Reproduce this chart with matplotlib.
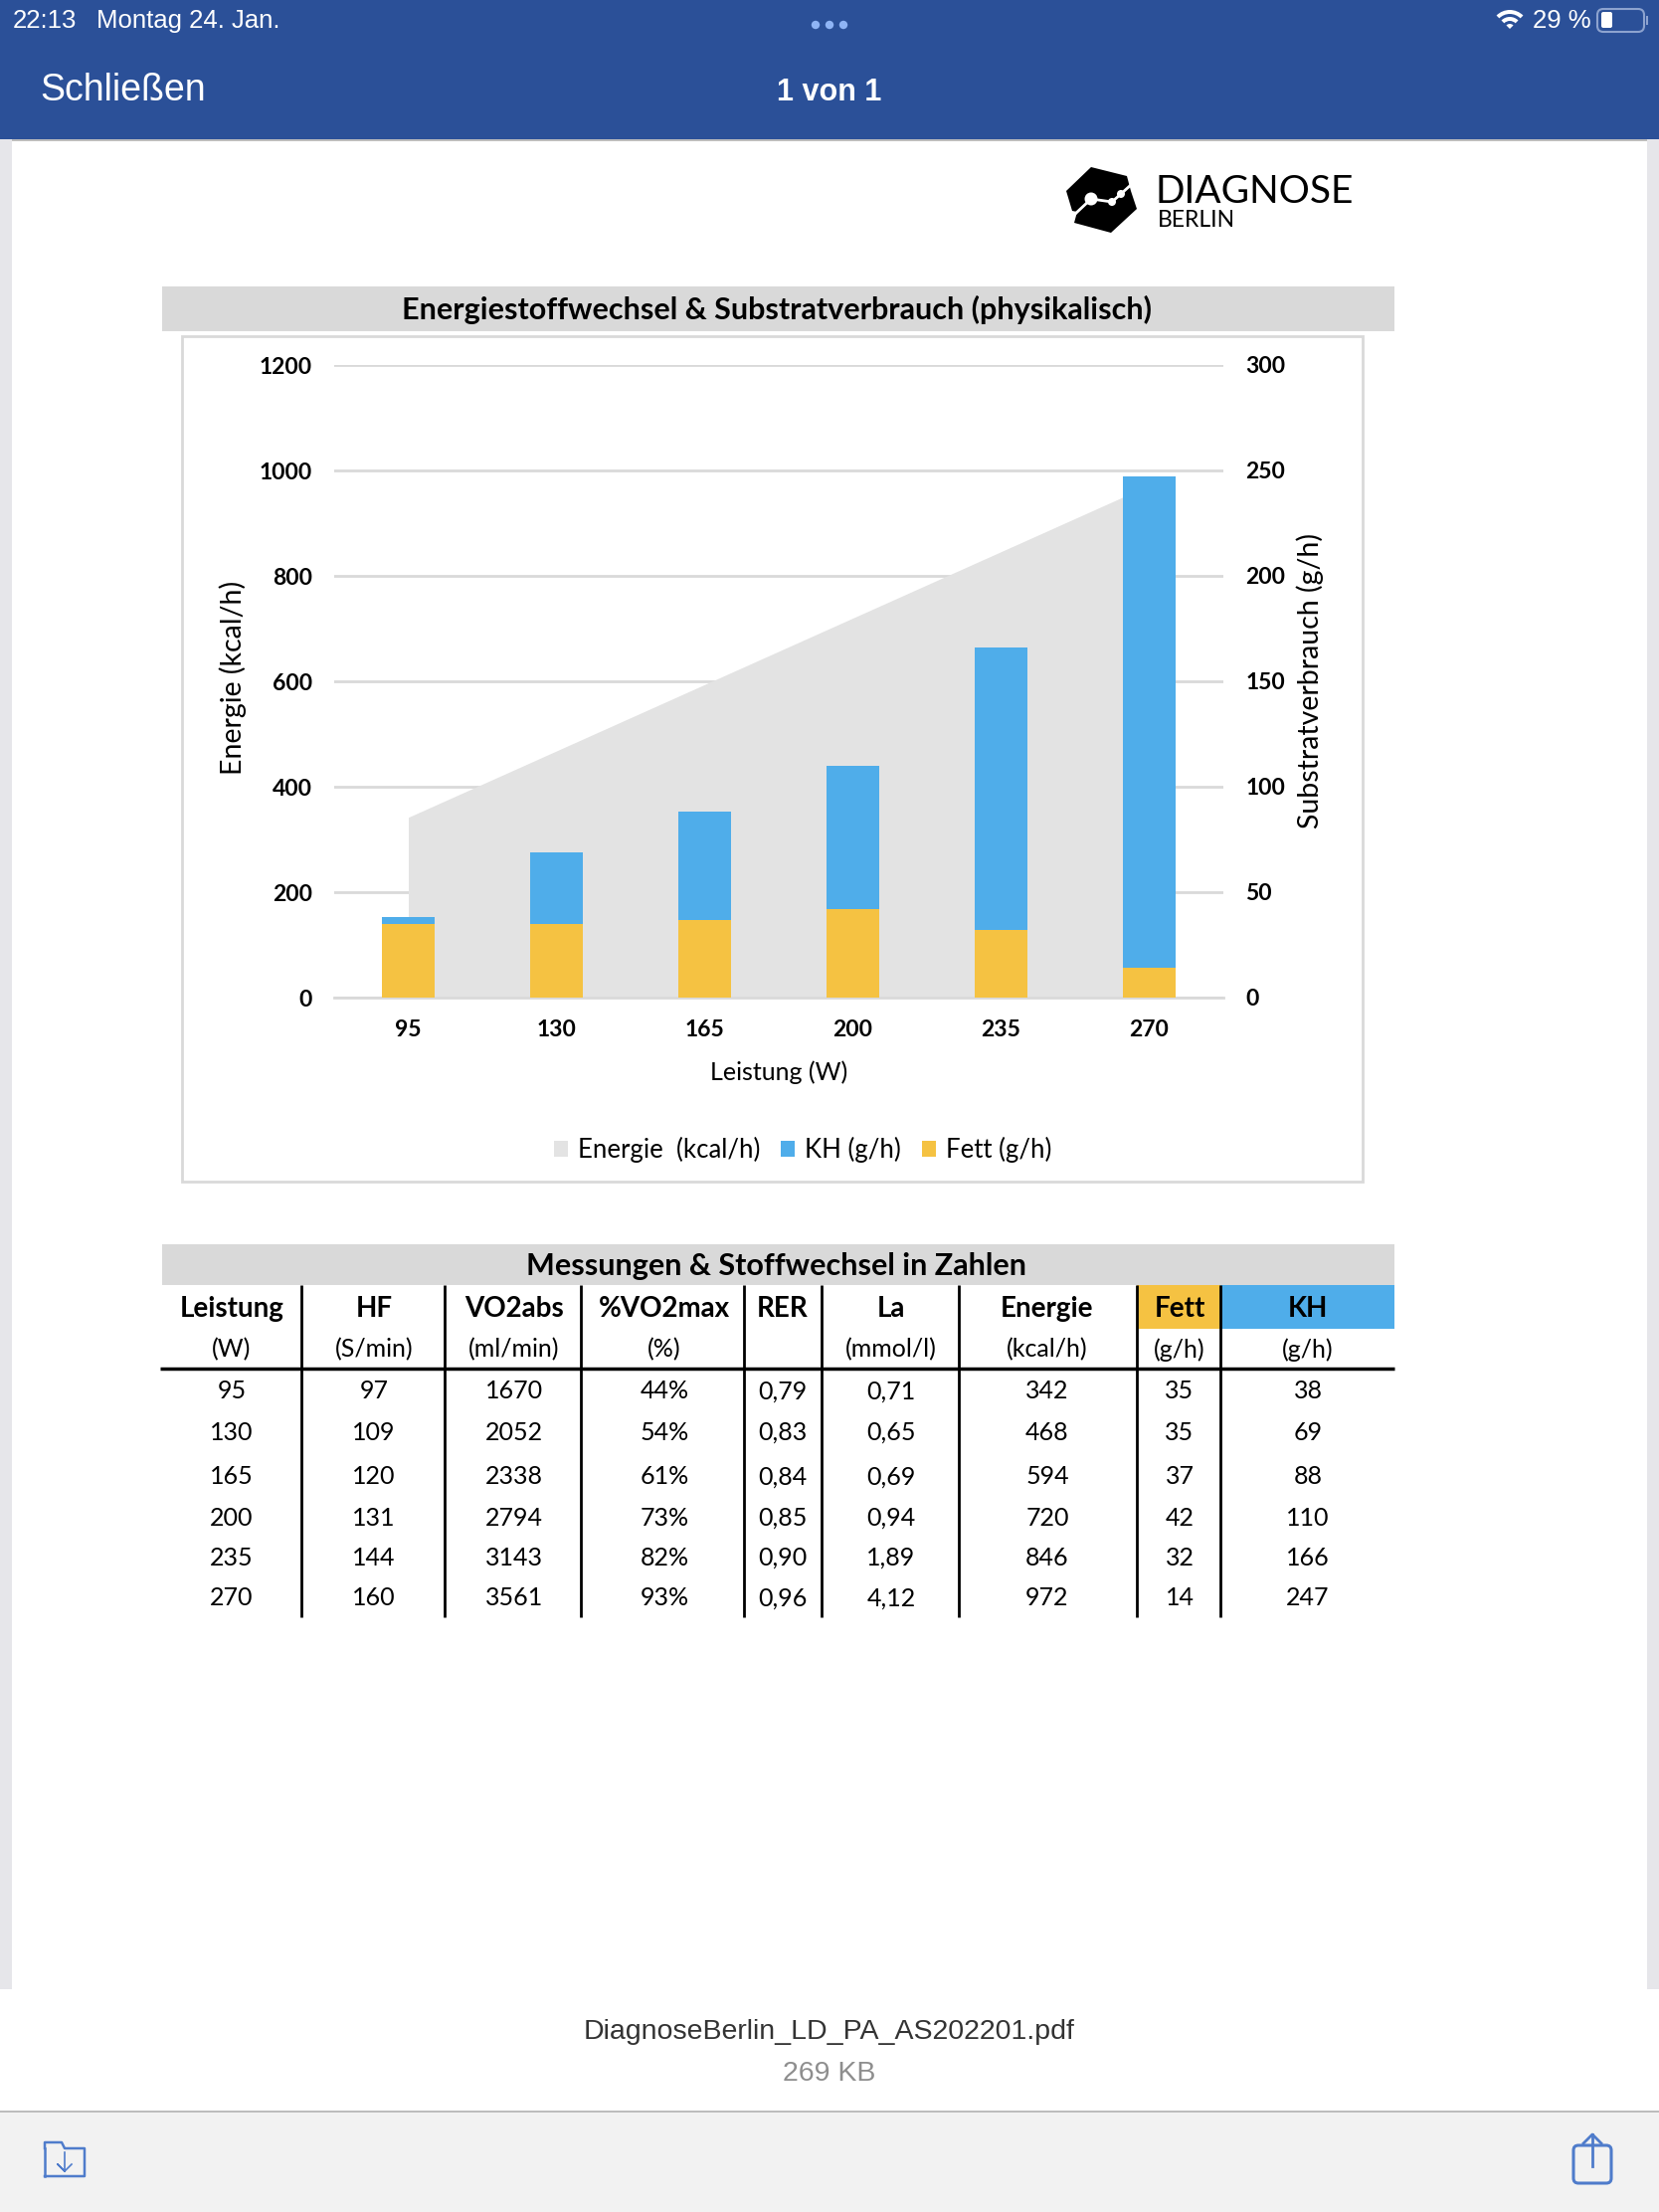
import numpy as np
import matplotlib
matplotlib.use('Agg')
import matplotlib.pyplot as plt
from matplotlib.patches import Rectangle, Polygon, FancyBboxPatch, Circle, Wedge

W, H = 1668, 2224

leistung = [95, 130, 165, 200, 235, 270]
hf = [97, 109, 120, 131, 144, 160]
vo2abs = [1670, 2052, 2338, 2794, 3143, 3561]
vo2max = ['44%', '54%', '61%', '73%', '82%', '93%']
rer = ['0,79', '0,83', '0,84', '0,85', '0,90', '0,96']
la = ['0,71', '0,65', '0,69', '0,94', '1,89', '4,12']
energie = [342, 468, 594, 720, 846, 972]
fett = [35, 35, 37, 42, 32, 14]
kh = [38, 69, 88, 110, 166, 247]

col_heads = ['Leistung', 'HF', 'VO2abs', '%VO2max', 'RER', 'La', 'Energie', 'Fett', 'KH']
col_units = ['(W)', '(S/min)', '(ml/min)', '(%)', '', '(mmol/l)', '(kcal/h)', '(g/h)', '(g/h)']
col_x = [233, 376, 517, 668, 787, 896, 1053, 1186, 1315]
col_lines = [303, 447, 584, 748, 826, 964, 1143, 1227]
row_y = [1399, 1440, 1485, 1526, 1566, 1607]

BLUE = '#4FADEA'
YELLOW = '#F5C242'
AREA = '#E3E3E3'
BAR = '#2B5098'
LINK = '#4F7CCB'
FONT = 'Lato'
UI = 'Liberation Sans'

fig = plt.figure(figsize=(W / 100, H / 100), dpi=100)
page = fig.add_axes([0, 0, 1, 1])
page.set_xlim(0, W)
page.set_ylim(H, 0)
page.axis('off')


def rect(x0, y0, x1, y1, **kw):
    kw.setdefault('lw', 0)
    page.add_patch(Rectangle((x0, y0), x1 - x0, y1 - y0, **kw))


def label(x, y, s, size, **kw):
    kw.setdefault('family', FONT)
    kw.setdefault('color', 'black')
    kw.setdefault('ha', 'center')
    kw.setdefault('va', 'center')
    page.text(x, y, s, fontsize=size, **kw)


# ipad chrome
rect(0, 0, W, 140, fc=BAR)
rect(0, 140, 12, 2000, fc='#E6E6EA')
rect(1656, 140, W, 2000, fc='#E6E6EA')
rect(12, 140, 1656, 142, fc='#BDBDBD')
label(13, 21, '22:13', 18.5, family=UI, color='white', ha='left')
label(97, 21, 'Montag 24. Jan.', 18.5, family=UI, color='white', ha='left')
for x in [820, 834, 848]:
    page.add_patch(Circle((x, 25), 4.2, fc='#8FB4F5', lw=0))
label(1541, 21, '29 %', 18.5, family=UI, color='white', ha='left')
# the y axis of the page is flipped, so these wedges open upwards
page.add_patch(Wedge((1518, 29), 19, 225, 315, width=4, fc='white', lw=0))
page.add_patch(Wedge((1518, 29), 12, 225, 315, width=4, fc='white', lw=0))
page.add_patch(Wedge((1518, 29), 5, 225, 315, fc='white', lw=0))
page.add_patch(FancyBboxPatch((1606, 9), 47, 23, boxstyle='round,pad=0,rounding_size=6',
                              fc='none', ec='#8DA3CF', lw=1.5))
page.add_patch(FancyBboxPatch((1610, 12), 11, 16, boxstyle='round,pad=0,rounding_size=2',
                              fc='white', lw=0))
rect(1655, 16, 1657, 25, fc='#8DA3CF')
label(40, 91, 'Schließen', 27, family=UI, color='white', ha='left')
label(834, 93, '1 von 1', 22, family=UI, color='white', weight='bold')

# logo
page.add_patch(Polygon([(1097, 168), (1133, 177), (1137, 192), (1143, 210), (1117, 234),
                        (1080, 224), (1083, 213), (1078, 212), (1072, 192)],
                       fc='black', lw=0))
page.plot([1080, 1097, 1118, 1127, 1138], [216, 200, 203, 195, 185], color='white', lw=2)
page.add_patch(Circle((1097, 200), 6.5, fc='white', lw=0))
page.add_patch(Circle((1118, 203), 4, fc='white', lw=0))
page.add_patch(Circle((1127, 195), 4, fc='white', lw=0))
label(1162, 193, 'DIAGNOSE', 28, ha='left')
label(1164, 222, 'BERLIN', 16.5, ha='left')

# chart frame
rect(163, 288, 1402, 333, fc='#D9D9D9')
label(781, 311, 'Energiestoffwechsel & Substratverbrauch (physikalisch)', 22, weight='bold')
rect(183, 338, 1370, 1188, fc='none', ec='#D9D9D9', lw=2)

ax = fig.add_axes([336 / W, 1 - 1003 / H, (1230 - 336) / W, (1003 - 367) / H])
ax2 = ax.twinx()
x = np.arange(len(leistung))
ax.fill_between(x, 0, energie, color=AREA, lw=0, label='Energie  (kcal/h)')
ax2.bar(x, kh, width=0.35, color=BLUE, label='KH (g/h)')
ax2.bar(x, fett, width=0.35, color=YELLOW, label='Fett (g/h)')

ax.set_xlim(-0.5, 5.5)
ax.set_ylim(0, 1200)
ax2.set_ylim(0, 300)
ax.set_yticks(range(0, 1201, 200))
ax2.set_yticks(range(0, 301, 50))
ax.set_xticks(x)
ax.set_xticklabels(leistung)
ax.grid(axis='y', color='#D9D9D9', lw=2)
ax.set_axisbelow(True)
ax.set_zorder(1)
ax2.set_zorder(2)
ax.patch.set_visible(False)
ax2.patch.set_visible(False)
for a in (ax, ax2):
    for s in a.spines.values():
        s.set_visible(False)
    a.tick_params(length=0, labelsize=16.5)
    for t in a.get_xticklabels() + a.get_yticklabels():
        t.set_family(FONT)
        t.set_weight('bold')
ax.spines['bottom'].set_visible(True)
ax.spines['bottom'].set_color('#D9D9D9')
ax.spines['bottom'].set_linewidth(2)
ax.tick_params(axis='y', pad=16)
ax2.tick_params(axis='y', pad=16)
ax.tick_params(axis='x', pad=16)
ax.set_xlabel('Leistung (W)', family=FONT, fontsize=18, va='center')
ax.xaxis.set_label_coords(0.5, -0.118)
ax.set_ylabel('Energie (kcal/h)', family=FONT, fontsize=20.5, va='center')
ax.yaxis.set_label_coords(-0.114, 0.505)
ax2.set_ylabel('Substratverbrauch (g/h)', family=FONT, fontsize=20.5, va='center')
ax2.yaxis.set_label_coords(1.097, 0.5)

handles = ax.get_legend_handles_labels()[0] + ax2.get_legend_handles_labels()[0]
labels = ax.get_legend_handles_labels()[1] + ax2.get_legend_handles_labels()[1]
page.legend(handles, labels, ncol=3, loc='center', bbox_to_anchor=(807 / W, 1 - 1156 / H),
            bbox_transform=fig.transFigure, frameon=False, handlelength=0.55, handleheight=0.55,
            handletextpad=0.4, columnspacing=0.8, prop={'family': FONT, 'size': 18.5})

# table
rect(163, 1251, 1402, 1292, fc='#D9D9D9')
label(781, 1273, 'Messungen & Stoffwechsel in Zahlen', 22, weight='bold')
rect(1143, 1292, 1227, 1336, fc=YELLOW)
rect(1227, 1292, 1402, 1336, fc=BLUE)
for cx, head, unit in zip(col_x, col_heads, col_units):
    label(cx, 1316, head, 20, weight='bold')
    label(cx, 1357, unit, 18)
for lx in col_lines:
    page.plot([lx, lx], [1292, 1626], color='black', lw=2, solid_capstyle='butt')
page.plot([161, 1402], [1376, 1376], color='black', lw=2.5, solid_capstyle='butt')
columns = [leistung, hf, vo2abs, vo2max, rer, la, energie, fett, kh]
for cx, col in zip(col_x, columns):
    for y, val in zip(row_y, col):
        label(cx, y, str(val), 18)

# footer
rect(0, 2000, W, 2123, fc='white')
rect(0, 2123, W, H, fc='#F2F2F2')
rect(0, 2122, W, 2124, fc='#BDBDBD')
label(834, 2043, 'DiagnoseBerlin_LD_PA_AS202201.pdf', 20.5, family=UI, color='#333333')
label(834, 2085, '269 KB', 20.5, family=UI, color='#8E8E8E')
# folder with a small tab
page.plot([45, 45, 62, 65, 85, 85, 45], [2160, 2154, 2154, 2160, 2160, 2188, 2188],
          color=LINK, lw=1.8)
page.plot([45, 45], [2160, 2188], color=LINK, lw=1.8)
page.plot([65, 65, 58, 65, 72], [2164, 2183, 2176, 2183, 2176], color=LINK, lw=1.2)
page.add_patch(FancyBboxPatch((1582, 2157), 38, 38, boxstyle='round,pad=0,rounding_size=5',
                              fc='none', ec=LINK, lw=2.2))
page.plot([1601, 1601], [2146, 2178], color=LINK, lw=2)
page.plot([1592, 1601, 1610], [2155, 2146, 2155], color=LINK, lw=2)

fig.savefig('out.png', dpi=100)
